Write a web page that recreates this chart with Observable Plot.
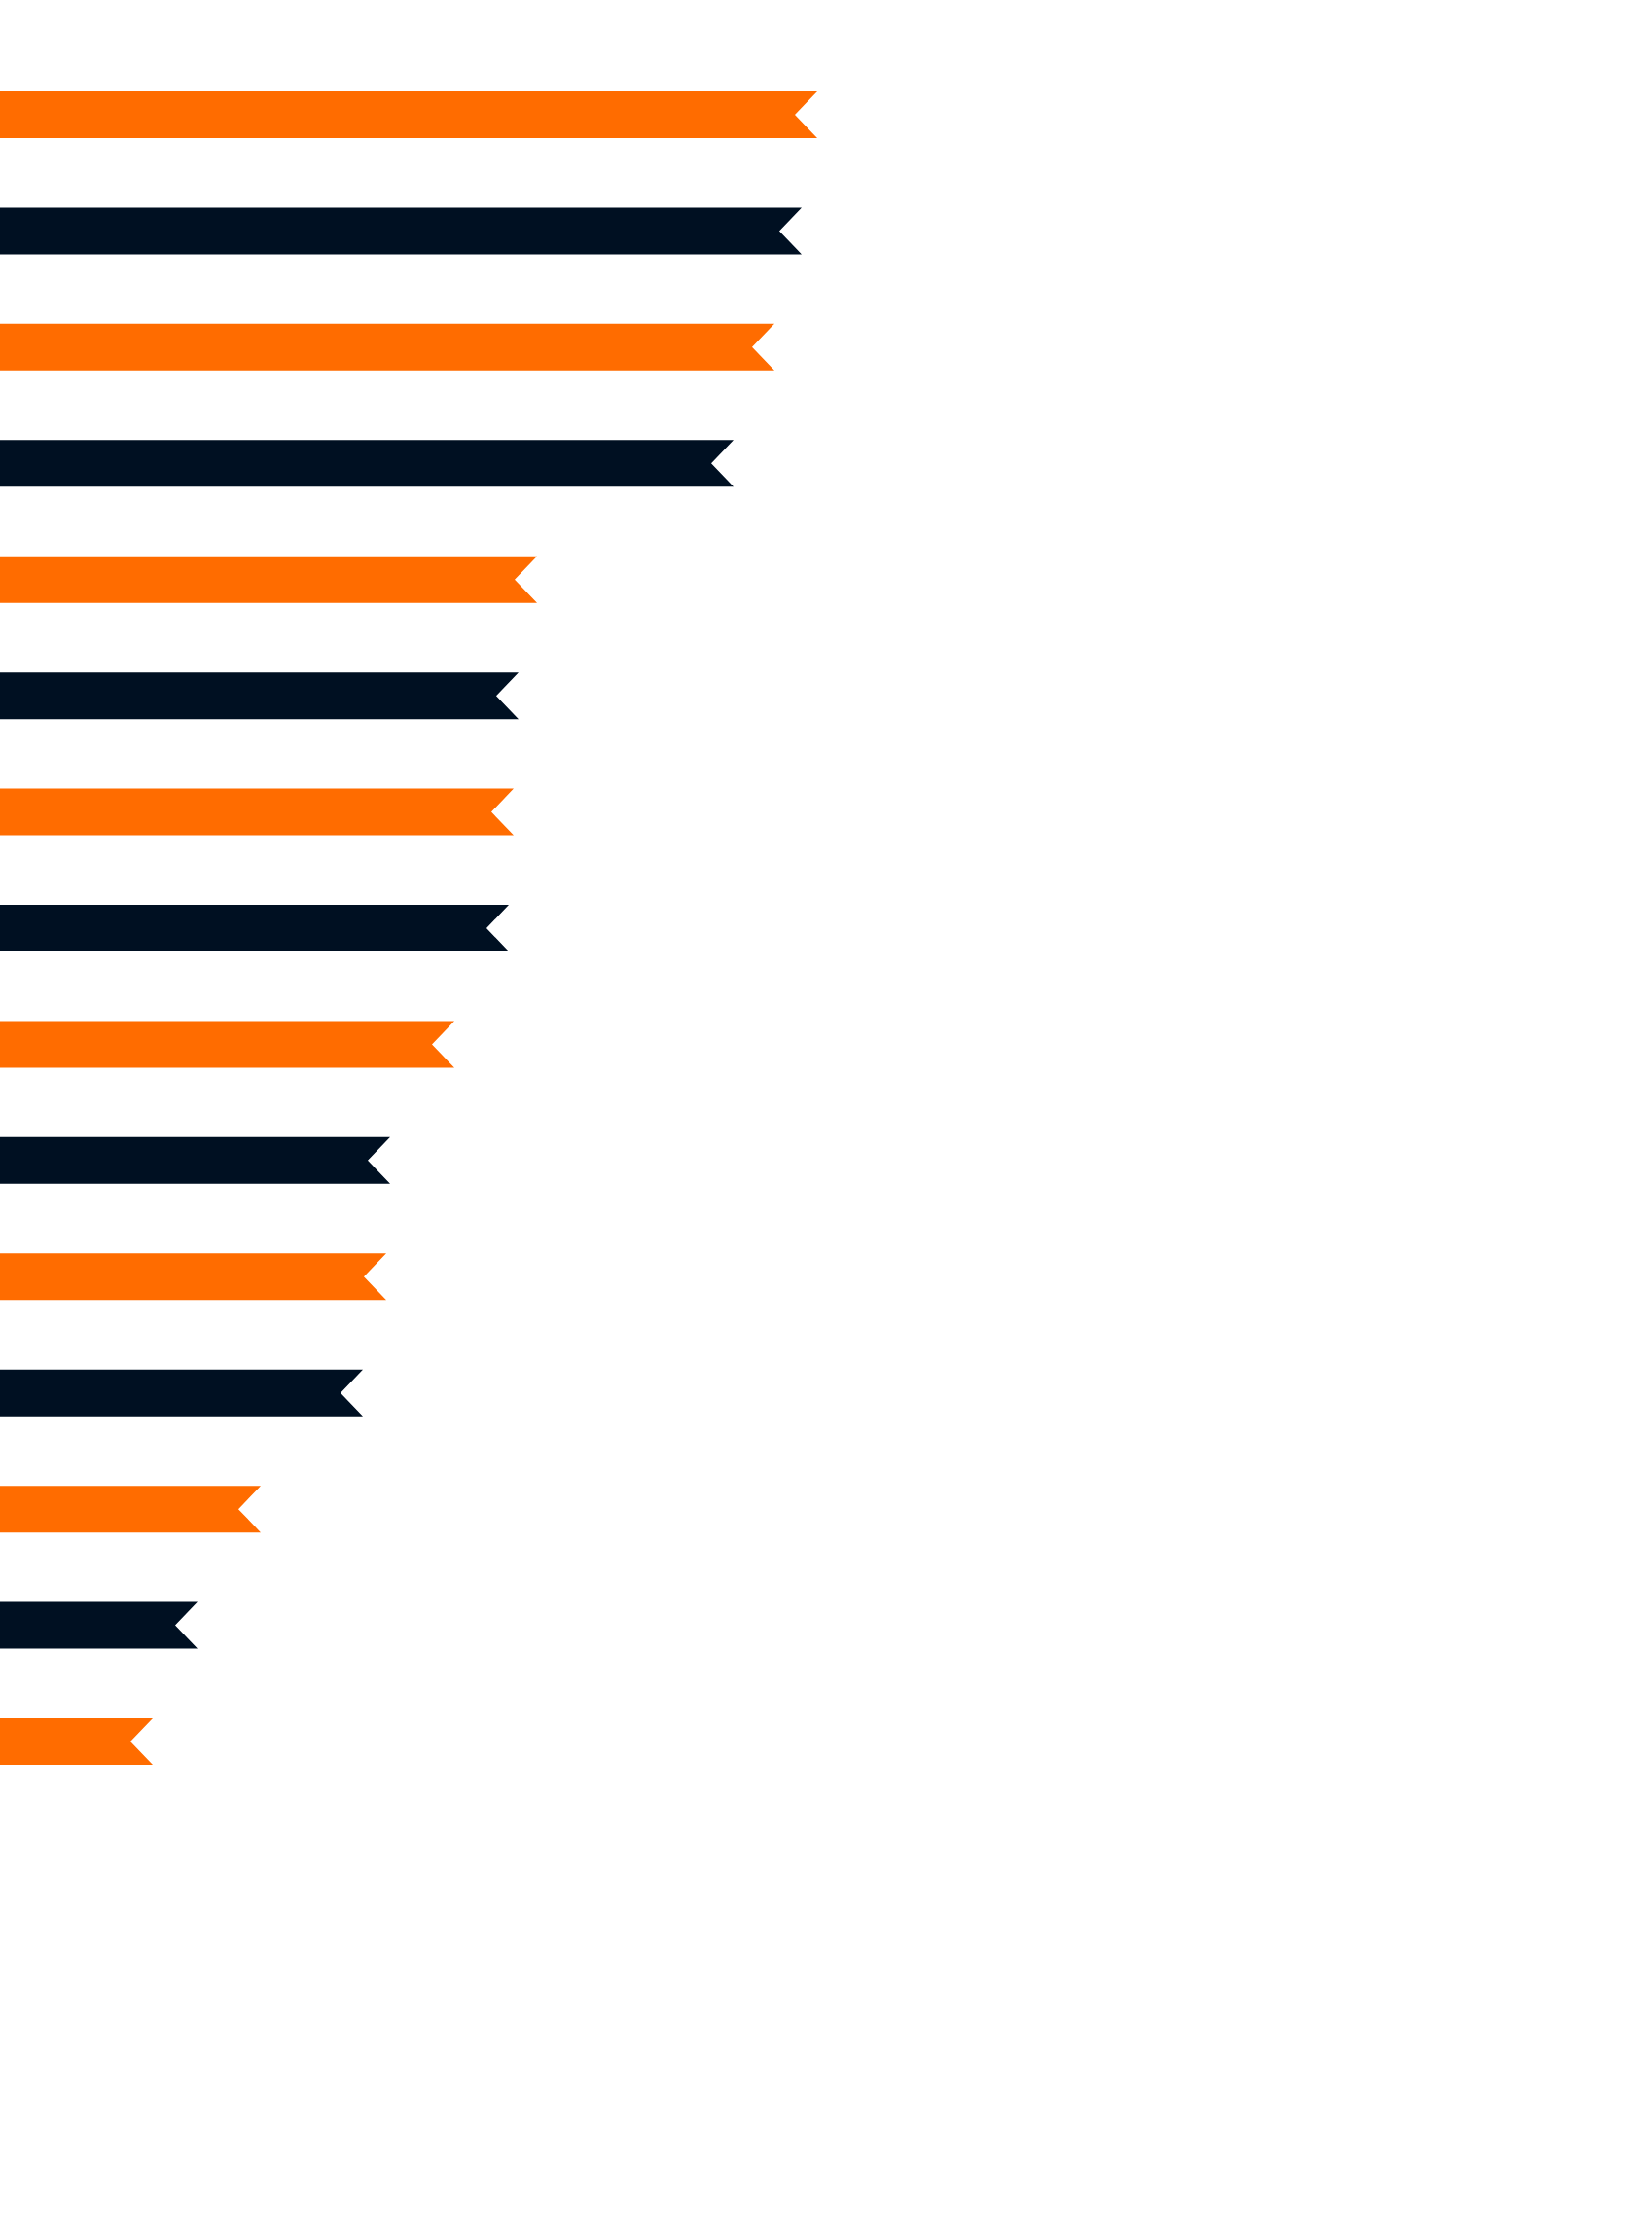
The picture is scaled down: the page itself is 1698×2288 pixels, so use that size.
<!DOCTYPE html>
<html>
<head>
<meta charset="utf-8">
<script src="https://cdn.jsdelivr.net/npm/d3@7"></script>
<script src="https://cdn.jsdelivr.net/npm/@observablehq/plot@0.6"></script>
<style>
  html, body { margin: 0; padding: 0; background: #ffffff; }
  #chart svg { display: block; }
</style>
</head>
<body>
<div id="chart"></div>
<script>
// Ranked items, top to bottom
const categories = ["1", "2", "3", "4", "5", "6", "7", "8", "9", "10", "11", "12", "13", "14", "15"];
// Length of each ribbon
const values = [840, 824, 796, 754, 552, 533, 528, 523, 467, 401, 397, 373, 268, 203, 157];
// Alternating ribbon groups
const groups = ["a", "b", "a", "b", "a", "b", "a", "b", "a", "b", "a", "b", "a", "b", "a"];
const groupColors = ["#ff6c00", "#001022"];

const data = categories.map((c, i) => ({ category: c, value: values[i], group: groups[i] }));

// Turn each bar rect into a ribbon with a chevron notch cut into its right end
function ribbon(index, scales, channels, dimensions, context, next) {
  const g = next(index, scales, channels, dimensions, context);
  const notch = 23;
  g.querySelectorAll("rect").forEach((r) => {
    const x = +r.getAttribute("x"), y = +r.getAttribute("y");
    const w = +r.getAttribute("width"), h = +r.getAttribute("height");
    const p = document.createElementNS("http://www.w3.org/2000/svg", "path");
    p.setAttribute("d", `M${x},${y}H${x + w}L${x + w - notch},${y + h / 2}L${x + w},${y + h}H${x}Z`);
    for (const a of ["fill", "stroke"]) if (r.hasAttribute(a)) p.setAttribute(a, r.getAttribute(a));
    r.replaceWith(p);
  });
  return g;
}

const chart = Plot.plot({
  width: 1698,
  height: 2288,
  margin: 0,
  x: { domain: [0, 1698], range: [0, 1698], axis: null },
  y: { domain: categories, range: [94, 1814], paddingInner: 0.598, paddingOuter: 0, round: false, axis: null },
  color: { domain: ["a", "b"], range: groupColors },
  marks: [
    Plot.barX(data, {
      x: "value",
      y: "category",
      fill: "group",
      render: ribbon
    })
  ]
});

document.getElementById("chart").append(chart);
</script>
</body>
</html>
